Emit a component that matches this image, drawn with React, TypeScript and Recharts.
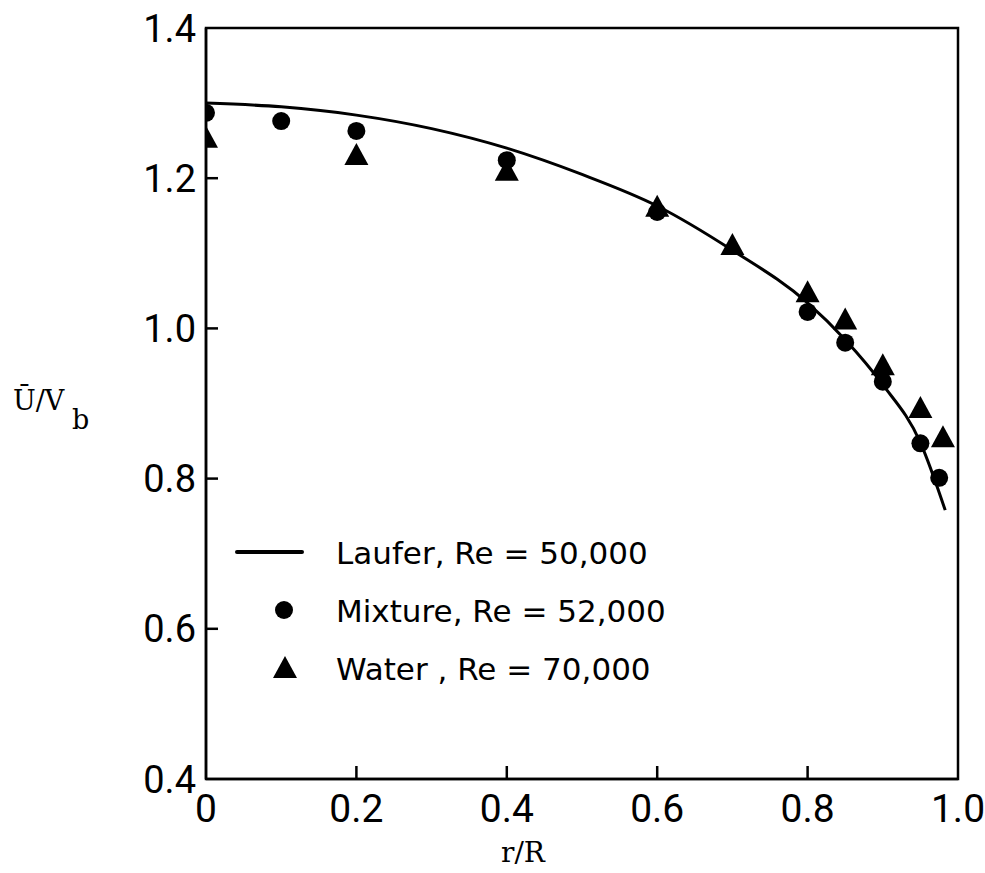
import React from 'react';
import {
  ComposedChart,
  Line,
  Scatter,
  XAxis,
  YAxis,
  ReferenceArea,
  Legend,
} from 'recharts';

// Laufer's pipe-flow profile (smooth curve)
const lauferR = [0, 0.1, 0.2, 0.3, 0.4, 0.5, 0.6, 0.7, 0.8, 0.85, 0.9, 0.95, 0.983];
const lauferU = [1.3, 1.295, 1.284, 1.266, 1.24, 1.205, 1.163, 1.104, 1.034, 0.985, 0.925, 0.848, 0.758];

// Mixture measurements, Re = 52,000
const mixtureR = [0, 0.1, 0.2, 0.4, 0.6, 0.8, 0.85, 0.9, 0.95, 0.975];
const mixtureU = [1.287, 1.276, 1.263, 1.224, 1.155, 1.022, 0.981, 0.929, 0.847, 0.801];

// Water measurements, Re = 70,000
const waterR = [0, 0.2, 0.4, 0.6, 0.7, 0.8, 0.85, 0.9, 0.95, 0.98];
const waterU = [1.254, 1.231, 1.21, 1.162, 1.111, 1.048, 1.012, 0.951, 0.894, 0.855];

const xTicks = [0, 0.2, 0.4, 0.6, 0.8, 1.0];
const yTicks = [0.4, 0.6, 0.8, 1.0, 1.2, 1.4];

const seriesNames = ['Laufer, Re = 50,000', 'Mixture, Re = 52,000', 'Water , Re = 70,000'];

const lauferData = lauferR.map((r, i) => ({ r, u: lauferU[i] }));
const mixtureData = mixtureR.map((r, i) => ({ r, u: mixtureU[i] }));
const waterData = waterR.map((r, i) => ({ r, u: waterU[i] }));

const TICK_FONT = 'Roboto, "DejaVu Sans", sans-serif';
const LEGEND_FONT = '"DejaVu Sans", Roboto, sans-serif';
const LABEL_FONT = '"DejaVu Serif", "Liberation Serif", serif';

const Dot = (props: any) => <circle cx={props.cx} cy={props.cy} r={9} fill="#000" />;

const Tri = (props: any) => {
  const { cx, cy } = props;
  return <polygon points={`${cx},${cy - 12} ${cx - 12},${cy + 10} ${cx + 12},${cy + 10}`} fill="#000" />;
};

const XTick = (props: any) => {
  const { x, y, payload } = props;
  const v = payload.value;
  const inner = v > 0 && v < 1;
  return (
    <g>
      {inner && <line x1={x} y1={y} x2={x} y2={y - 13} stroke="#000" strokeWidth={2.5} />}
      <text x={x} y={y + 43} textAnchor="middle" fontFamily={TICK_FONT} fontSize={39} fill="#000">
        {v === 0 ? '0' : v.toFixed(1)}
      </text>
    </g>
  );
};

const YTick = (props: any) => {
  const { x, y, payload } = props;
  const v = payload.value;
  const inner = v > 0.4 && v < 1.4;
  return (
    <g>
      {inner && <line x1={x} y1={y} x2={x + 12} y2={y} stroke="#000" strokeWidth={2.5} />}
      <text x={x - 10} y={y} dy="0.36em" textAnchor="end" fontFamily={TICK_FONT} fontSize={38} fill="#000">
        {v.toFixed(1)}
      </text>
    </g>
  );
};

const LegendBox = (props: any) => {
  const payload = props.payload || [];
  return (
    <svg width={470} height={180} style={{ overflow: 'visible' }}>
      {payload.map((entry: any, i: number) => {
        const cy = 32 + i * 58;
        let mark = null;
        if (entry.type === 'line') {
          mark = <line x1={17} y1={cy} x2={82} y2={cy} stroke="#000" strokeWidth={4} strokeLinecap="round" />;
        } else if (entry.type === 'circle') {
          mark = <circle cx={64} cy={cy} r={9} fill="#000" />;
        } else {
          mark = <Tri cx={65} cy={cy} />;
        }
        return (
          <g key={entry.value}>
            {mark}
            <text x={116} y={cy + 12} fontFamily={LEGEND_FONT} fontSize={31} fill="#000">
              {entry.value}
            </text>
          </g>
        );
      })}
    </svg>
  );
};

export default function App() {
  return (
    <div style={{ position: 'absolute', left: 0, top: 0, width: 985, height: 873, background: '#fff' }}>
      <ComposedChart
        width={985}
        height={873}
        margin={{ top: 28, right: 27, bottom: 64, left: 146 }}
      >
        <XAxis
          dataKey="r"
          type="number"
          domain={[0, 1]}
          ticks={xTicks}
          allowDataOverflow
          tickSize={0}
          tickMargin={0}
          tickLine={false}
          tick={<XTick />}
          axisLine={{ stroke: '#000', strokeWidth: 2.5 }}
          height={30}
          label={() => (
            <text x={523} y={862} textAnchor="middle" fontFamily={LABEL_FONT} fontSize={28} fill="#000">
              r/R
            </text>
          )}
        />
        <YAxis
          dataKey="u"
          type="number"
          domain={[0.4, 1.4]}
          ticks={yTicks}
          allowDataOverflow
          tickSize={0}
          tickMargin={0}
          tickLine={false}
          tick={<YTick />}
          axisLine={{ stroke: '#000', strokeWidth: 2.5 }}
          width={60}
          label={() => (
            <g fontFamily={LABEL_FONT} fill="#000">
              <text x={13} y={410} fontSize={27}>Ū/V</text>
              <text x={72} y={429} fontSize={27}>b</text>
            </g>
          )}
        />
        <ReferenceArea
          x1={0}
          x2={1}
          y1={0.4}
          y2={1.4}
          fill="none"
          stroke="#000"
          strokeWidth={2.5}
          ifOverflow="visible"
        />
        <Line
          data={lauferData}
          dataKey="u"
          name={seriesNames[0]}
          type="monotone"
          stroke="#000"
          strokeWidth={3}
          dot={false}
          legendType="line"
          isAnimationActive={false}
        />
        <Scatter
          data={mixtureData}
          dataKey="u"
          name={seriesNames[1]}
          shape={<Dot />}
          legendType="circle"
          isAnimationActive={false}
        />
        <Scatter
          data={waterData}
          dataKey="u"
          name={seriesNames[2]}
          shape={<Tri />}
          legendType="triangle"
          isAnimationActive={false}
        />
        <Legend
          layout="vertical"
          align="center"
          verticalAlign="middle"
          content={<LegendBox />}
          wrapperStyle={{ position: 'absolute', left: 220, top: 520, width: 470, height: 180 }}
        />
      </ComposedChart>
    </div>
  );
}
